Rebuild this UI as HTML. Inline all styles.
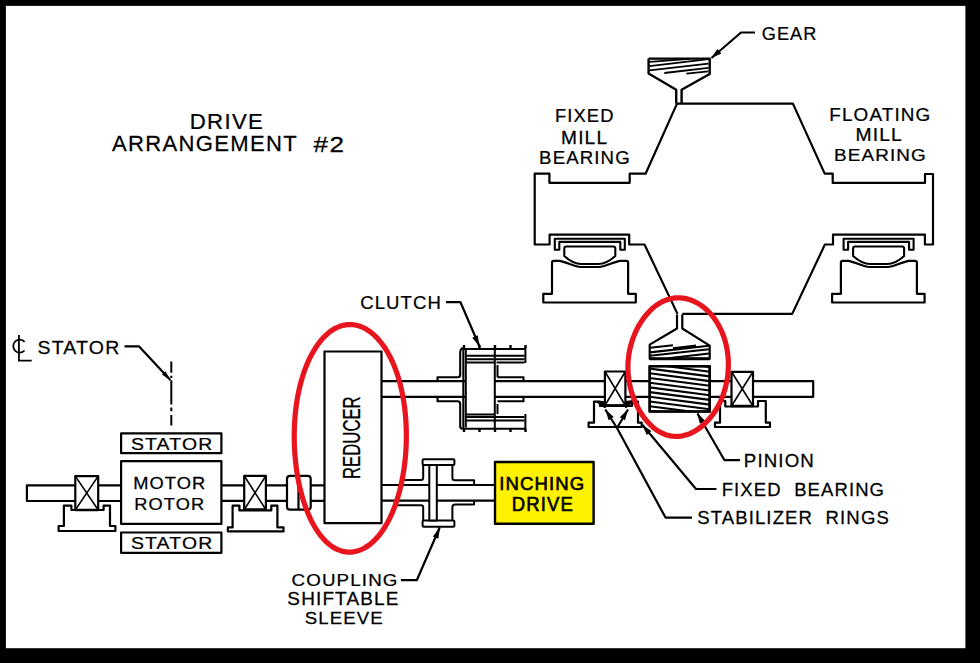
<!DOCTYPE html><html><head><meta charset="utf-8"><style>html,body{margin:0;padding:0;background:#000;width:980px;height:663px;overflow:hidden}svg text{font-family:"Liberation Sans",sans-serif}</style></head><body><svg width="980" height="663" viewBox="0 0 980 663" style="display:block">
<rect x="0" y="0" width="980" height="663" fill="#000"/>
<rect x="5.9" y="5.9" width="959.5" height="642.3" fill="#fff"/>
<g fill="none" stroke="#000" stroke-width="2.2" stroke-linejoin="round" stroke-linecap="butt">
<path d="M648.6,58.6 H709.7 V74 L681.6,89.8 V103.6 M648.6,58.6 V73.5 L676.2,89.8 V103.6" stroke-width="2.4"/>
<path d="M649.5,61.8 L690,58.8 M649.5,66.1 L708.5,59.2 M649.5,70.4 L708.5,63.6 M664.3,73 L708.5,67.9 M686.4,73.6 L708.5,71.4" stroke-width="1.8"/>
<path d="M755,32.5 H741 L711.5,58"/>
<path d="M711.0,58.3 L717.4,48.9 L721.3,53.4 Z" fill="#000" stroke="none"/>
<path d="M676.2,103.6 H792.9 L824.7,173.6 H832.7 V182.9 H925 V174 H933 V244.5 H924.9 V234.7 H833 V244.5 H824.9 L792.2,313.9 H682.3"/>
<path d="M677,103.6 L645.6,173.7 H629.7 V182.8 H549.4 V173.7 H534.7 V244.5 H549.6 V234.7 H629.2 V244.5 H644.5 L677.5,313.9"/>
<path d="M554.8,249.8 V238.7 H624.8 V249.8 H620.3 V241.9 H559.3 V249.8 Z" stroke-width="2.1"/>
<path d="M564.3,248.5 Q564.3,246.5 566.3,246.5 H613.3 Q615.3,246.5 615.3,248.5 V256 C609.8,261 603.8,264 598.3,264 H581.3 C575.8,264 569.8,261 564.3,256 Z" stroke-width="2.1"/>
<path d="M552.0,293.8 V262.5 Q552.0,260.8 553.8,260.8 H559.8 C567.8,262.5 574.8,267 580.8,267 H598.8 C604.8,267 611.8,262.5 619.8,260.8 H626.3 Q628.1,260.8 628.1,262.5 V293.8 H635.8 V302.5 H543.3 V293.8 Z"/>
<path d="M843.6,249.8 V238.7 H913.6 V249.8 H909.1 V241.9 H848.1 V249.8 Z" stroke-width="2.1"/>
<path d="M853.1,248.5 Q853.1,246.5 855.1,246.5 H902.1 Q904.1,246.5 904.1,248.5 V256 C898.6,261 892.6,264 887.1,264 H870.1 C864.6,264 858.6,261 853.1,256 Z" stroke-width="2.1"/>
<path d="M840.9,293.8 V262.5 Q840.9,260.8 842.6,260.8 H848.6 C856.6,262.5 863.6,267 869.6,267 H887.6 C893.6,267 900.6,262.5 908.6,260.8 H915.1 Q916.9,260.8 916.9,262.5 V293.8 H924.6 V302.5 H832.1 V293.8 Z"/>
<path d="M381,381.2 H813.2 V396.8 H381"/>
<path d="M677,314.5 V328.5 L649.7,344.6 V358.8 H709.7 V345.6 L682.3,328.5 V314.5"/>
<path d="M649.7,358.8 H709.7" stroke-width="3"/>
<path d="M650,347.8 L673,345.2 M673,348.3 L696,345.6 M650,352.4 L709,345.8 M650,355.8 L709,349.3 M668,358.3 L709,353.5" stroke-width="2.1"/>
<clipPath id="pc"><rect x="649.7" y="366.2" width="60" height="45.3"/></clipPath>
<rect x="649.7" y="366.2" width="60.00" height="45.30" fill="#fff"/>
<path d="M649.7,359.2 L709.7,367.0 M649.7,363.9 L709.7,371.7 M649.7,368.6 L709.7,376.4 M649.7,373.3 L709.7,381.1 M649.7,378.0 L709.7,385.8 M649.7,382.7 L709.7,390.5 M649.7,387.4 L709.7,395.2 M649.7,392.1 L709.7,399.9 M649.7,396.8 L709.7,404.6 M649.7,401.5 L709.7,409.3 M649.7,406.2 L709.7,414.0 M649.7,410.9 L709.7,418.7 M649.7,415.6 L709.7,423.4" stroke-width="2.1" clip-path="url(#pc)"/>
<rect x="649.7" y="366.2" width="60.00" height="45.30" stroke-width="2.6"/>
<rect x="604.9" y="371.5" width="20.50" height="34.00" fill="#fff"/>
<path d="M604.9,371.5 L625.4,405.5 M625.4,371.5 L604.9,405.5" stroke-width="1.6"/>
<rect x="731.5" y="371.8" width="21.50" height="34.20" fill="#fff"/>
<path d="M731.5,371.8 L753,406 M753,371.8 L731.5,406" stroke-width="1.6"/>
<path d="M594,401.6 H600 V406 H632 V401.6 H638 V422.7 H641.7 V427 H588.6 V422.7 H594 Z" fill="#fff"/>
<path d="M720,401 H725.3 V406.5 H758 V401 H765.8 V422.7 H770 V427 H715 V422.7 H720 Z" fill="#fff"/>
<path d="M604.9,405.5 H625.4 M731.5,406 H753" stroke-width="2.6"/>
<path d="M598,402 L605,402 L605,407 Z M626,402 L633,401 L626,407 Z" fill="#000"/>
<rect x="465.8" y="362.4" width="29.00" height="52.10" fill="#fff" stroke="none"/>
<path d="M437.5,381.2 V377.3 H457.5 Q460.2,377.3 460.2,374.5 V352 Q460.2,349.5 462.5,348" stroke-width="2.1"/>
<path d="M437.5,396.8 V401.3 H457.5 Q460.2,401.3 460.2,404 V426 Q460.2,428.5 462.5,429" stroke-width="2.1"/>
<path d="M463.3,347 V429.5 M465.8,349 V427.5 M494.8,346.5 V429.5" stroke-width="2"/>
<path d="M463.3,349 H525.4 M465.8,355.7 H524.5 M465.8,359.2 H524.5 M465.8,362.4 H494.8 M496.5,362.4 H524.5" stroke-width="2"/>
<path d="M463.3,428.7 H525.4 M465.8,420.5 H524.5 M465.8,417 H524.5 M465.8,414.5 H494.8" stroke-width="2"/>
<path d="M497.5,377.3 H523.5 V381.2 M497.5,401.3 H523.5 V396.8 M497.5,365 V377.3 M497.5,404 V414" stroke-width="2"/>
<path d="M525.4,347 V363 M525.4,414 V430" stroke-width="2"/>
<rect x="462.8" y="345" width="2.40" height="3.00" fill="#000" stroke="none"/>
<rect x="462.8" y="429" width="2.40" height="3.00" fill="#000" stroke="none"/>
<rect x="478.3" y="345" width="2.40" height="3.00" fill="#000" stroke="none"/>
<rect x="478.3" y="429" width="2.40" height="3.00" fill="#000" stroke="none"/>
<rect x="493.8" y="345" width="2.40" height="3.00" fill="#000" stroke="none"/>
<rect x="493.8" y="429" width="2.40" height="3.00" fill="#000" stroke="none"/>
<rect x="509.3" y="345" width="2.40" height="3.00" fill="#000" stroke="none"/>
<rect x="509.3" y="429" width="2.40" height="3.00" fill="#000" stroke="none"/>
<rect x="524.3" y="345" width="2.40" height="3.00" fill="#000" stroke="none"/>
<rect x="524.3" y="429" width="2.40" height="3.00" fill="#000" stroke="none"/>
<path d="M445.9,302.2 H460.5 L479.5,346.5"/>
<path d="M479.5,346.5 L472.2,337.7 L477.7,335.2 Z" fill="#000" stroke="none"/>
<rect x="324.5" y="351.5" width="57.00" height="171.70" fill="#fff"/>
<path d="M121,485.3 H26.9 V501 H121"/>
<path d="M221.4,485.3 H324.5 M221.4,500.8 H324.5"/>
<path d="M381.5,485 H495 M381.5,500.6 H495"/>
<rect x="121.1" y="433.3" width="100.30" height="19.90" fill="#fff"/>
<rect x="121.1" y="461.1" width="100.30" height="62.80" fill="#fff"/>
<rect x="121.1" y="532.5" width="100.30" height="20.30" fill="#fff"/>
<rect x="75.3" y="476.1" width="22.90" height="33.90" fill="#fff"/>
<path d="M75.3,476.1 L98.2,510 M98.2,476.1 L75.3,510" stroke-width="1.6"/>
<rect x="244.2" y="475.8" width="21.70" height="33.90" fill="#fff"/>
<path d="M244.2,475.8 L265.9,509.7 M265.9,475.8 L244.2,509.7" stroke-width="1.6"/>
<path d="M63.9,505.7 H71.4 V510 H103.6 V505.7 H110 V526 H115.4 V531 H58.6 V526 H63.9 Z" fill="#fff"/>
<path d="M232.6,505.7 H239.4 V510.4 H271.3 V505.7 H277.4 V527.4 H283.5 V531.4 H227.9 V527.4 H232.6 Z" fill="#fff"/>
<path d="M75.3,510 H98.2 M244.2,509.7 H265.9" stroke-width="2.6"/>
<rect x="287" y="475.8" width="23.7" height="33.9" rx="3" fill="#fff"/>
<path d="M298.5,475.8 V509.7"/>
<path d="M171.3,361.4 V372.7 M171.3,375.7 V378 M171.3,380.2 V404.4 M171.3,407.4 V411.2 M171.3,415 V425.5" stroke-width="2"/>
<path d="M124.5,346.3 H138.9 L170.3,380"/>
<path d="M170.5,380.2 L161.9,374.6 L165.5,371.2 Z" fill="#000" stroke="none"/>
<path d="M24.6,341.8 A6.5,6.5 0 1 0 24.6,350.5" stroke-width="1.8"/>
<path d="M18.9,335 V360.7 H31.7" stroke-width="1.8"/>
<path d="M401,480 H421 Q423.2,480 423.2,477.8 V464.9 M397,505.2 H421 Q423.2,505.2 423.2,507.4 V520.6" stroke-width="2"/>
<path d="M452.4,464.9 V477.8 Q452.4,480.3 455,480.3 H474.1 V485 M452.4,520.6 V507 Q452.4,504.5 455,504.5 H474.1 V500.6" stroke-width="2"/>
<rect x="422.6" y="459.2" width="31.8" height="5.7" rx="1" fill="#fff" stroke-width="2"/>
<rect x="422.6" y="520.6" width="31.8" height="6.1" rx="1" fill="#fff" stroke-width="2"/>
<rect x="429.3" y="464.9" width="7.50" height="55.70" fill="#fff" stroke-width="2"/>
<path d="M400.9,580.2 H416.8 L439.8,527.3"/>
<path d="M440.0,527.5 L438.3,538.8 L432.8,536.4 Z" fill="#000" stroke="none"/>
<rect x="495" y="462" width="98.60" height="61.70" fill="#fff200" stroke-width="2.4"/>
<path d="M740,460.2 H724.5 L697.5,413.5"/>
<path d="M697.0,412.7 L705.1,420.7 L699.9,423.7 Z" fill="#000" stroke="none"/>
<path d="M716.5,489 H696 L642.5,425"/>
<path d="M642.0,424.5 L651.4,431.0 L646.8,434.9 Z" fill="#000" stroke="none"/>
<path d="M692,517.6 H665.5 L617,428 L605.3,409.5 M617,428 L628,409.5"/>
<path d="M605.3,409.3 L613.7,417.0 L608.6,420.2 Z" fill="#000" stroke="none"/>
<path d="M628.0,409.3 L625.0,420.3 L619.8,417.3 Z" fill="#000" stroke="none"/>
</g>
<path d="M406.33,438.59 C406.31,440.59 406.26,442.59 406.18,444.58 C406.11,446.58 406.00,448.57 405.88,450.55 C405.76,452.53 405.61,454.50 405.43,456.47 C405.26,458.43 405.06,460.38 404.84,462.32 C404.62,464.26 404.37,466.18 404.10,468.09 C403.84,470.00 403.54,471.89 403.23,473.76 C402.92,475.64 402.58,477.49 402.22,479.33 C401.86,481.16 401.48,482.98 401.08,484.77 C400.68,486.56 400.25,488.33 399.81,490.07 C399.37,491.81 398.90,493.53 398.41,495.22 C397.93,496.91 397.42,498.58 396.90,500.21 C396.37,501.85 395.82,503.45 395.26,505.03 C394.69,506.60 394.11,508.15 393.50,509.66 C392.90,511.18 392.28,512.66 391.64,514.11 C391.00,515.55 390.34,516.97 389.66,518.35 C388.99,519.73 388.29,521.07 387.58,522.38 C386.87,523.69 386.14,524.96 385.40,526.19 C384.66,527.42 383.90,528.62 383.12,529.77 C382.35,530.93 381.56,532.05 380.75,533.12 C379.95,534.19 379.12,535.23 378.29,536.22 C377.46,537.21 376.61,538.16 375.75,539.07 C374.89,539.98 374.02,540.84 373.13,541.66 C372.25,542.48 371.35,543.25 370.44,543.98 C369.54,544.70 368.62,545.39 367.69,546.02 C366.77,546.65 365.83,547.24 364.88,547.78 C363.94,548.32 362.99,548.81 362.03,549.25 C361.07,549.69 360.11,550.08 359.14,550.42 C358.17,550.76 357.19,551.05 356.21,551.29 C355.23,551.53 354.25,551.72 353.26,551.85 C352.28,551.99 351.29,552.07 350.31,552.10 C349.32,552.13 348.33,552.11 347.34,552.04 C346.36,551.97 345.37,551.84 344.39,551.66 C343.41,551.48 342.43,551.25 341.45,550.96 C340.48,550.68 339.51,550.34 338.54,549.95 C337.58,549.56 336.62,549.12 335.67,548.62 C334.71,548.13 333.77,547.58 332.84,546.98 C331.90,546.38 330.97,545.73 330.06,545.03 C329.14,544.34 328.24,543.58 327.34,542.78 C326.45,541.99 325.57,541.14 324.70,540.24 C323.83,539.34 322.97,538.40 322.13,537.40 C321.29,536.41 320.46,535.37 319.65,534.29 C318.83,533.21 318.03,532.08 317.25,530.91 C316.47,529.74 315.70,528.52 314.95,527.27 C314.21,526.01 313.47,524.72 312.76,523.38 C312.04,522.05 311.35,520.67 310.67,519.26 C309.99,517.85 309.33,516.40 308.68,514.91 C308.04,513.43 307.42,511.91 306.82,510.36 C306.21,508.81 305.63,507.22 305.07,505.61 C304.50,504.00 303.96,502.35 303.44,500.68 C302.91,499.01 302.41,497.31 301.93,495.58 C301.45,493.86 300.99,492.10 300.55,490.33 C300.11,488.56 299.69,486.76 299.30,484.94 C298.90,483.12 298.53,481.28 298.18,479.42 C297.83,477.56 297.50,475.69 297.19,473.79 C296.89,471.90 296.60,469.99 296.34,468.07 C296.08,466.15 295.85,464.21 295.63,462.26 C295.42,460.32 295.23,458.36 295.06,456.39 C294.90,454.42 294.76,452.45 294.64,450.47 C294.52,448.48 294.43,446.49 294.36,444.50 C294.29,442.51 294.25,440.52 294.23,438.52 C294.21,436.52 294.22,434.53 294.25,432.53 C294.28,430.54 294.33,428.54 294.42,426.55 C294.50,424.56 294.61,422.58 294.74,420.60 C294.87,418.62 295.03,416.65 295.21,414.69 C295.40,412.73 295.61,410.77 295.84,408.84 C296.08,406.90 296.34,404.97 296.62,403.06 C296.91,401.15 297.22,399.25 297.56,397.38 C297.89,395.50 298.26,393.64 298.64,391.81 C299.03,389.97 299.44,388.15 299.88,386.36 C300.31,384.57 300.77,382.80 301.25,381.06 C301.74,379.32 302.25,377.60 302.78,375.92 C303.31,374.24 303.86,372.58 304.43,370.95 C305.01,369.33 305.61,367.74 306.23,366.18 C306.85,364.62 307.49,363.10 308.15,361.61 C308.81,360.12 309.49,358.67 310.19,357.26 C310.89,355.85 311.61,354.48 312.34,353.15 C313.08,351.81 313.84,350.52 314.61,349.27 C315.38,348.03 316.17,346.82 316.97,345.66 C317.78,344.50 318.60,343.38 319.43,342.31 C320.27,341.24 321.12,340.21 321.98,339.23 C322.84,338.25 323.71,337.32 324.60,336.43 C325.48,335.55 326.38,334.71 327.29,333.93 C328.19,333.14 329.11,332.40 330.04,331.71 C330.96,331.02 331.90,330.38 332.84,329.79 C333.78,329.20 334.74,328.66 335.69,328.17 C336.65,327.68 337.61,327.24 338.58,326.85 C339.54,326.46 340.52,326.12 341.49,325.83 C342.47,325.54 343.45,325.31 344.43,325.12 C345.41,324.93 346.39,324.80 347.38,324.71 C348.36,324.62 349.35,324.59 350.34,324.60 C351.32,324.61 352.31,324.68 353.29,324.79 C354.28,324.91 355.26,325.07 356.24,325.28 C357.22,325.50 358.20,325.76 359.17,326.07 C360.15,326.39 361.12,326.75 362.08,327.16 C363.05,327.57 364.01,328.03 364.96,328.53 C365.91,329.04 366.86,329.60 367.80,330.20 C368.74,330.80 369.67,331.45 370.60,332.15 C371.52,332.85 372.43,333.59 373.34,334.38 C374.24,335.17 375.14,336.01 376.02,336.90 C376.90,337.78 377.77,338.71 378.63,339.68 C379.49,340.66 380.34,341.67 381.17,342.74 C382.00,343.80 382.82,344.91 383.62,346.05 C384.42,347.20 385.21,348.40 385.98,349.63 C386.75,350.86 387.51,352.14 388.24,353.45 C388.98,354.77 389.70,356.12 390.40,357.52 C391.10,358.91 391.78,360.34 392.44,361.81 C393.10,363.28 393.75,364.79 394.36,366.33 C394.98,367.87 395.58,369.44 396.16,371.05 C396.74,372.66 397.29,374.30 397.82,375.98 C398.35,377.65 398.86,379.35 399.35,381.08 C399.83,382.81 400.30,384.57 400.73,386.36 C401.17,388.14 401.58,389.95 401.97,391.78 C402.36,393.61 402.72,395.47 403.05,397.35 C403.39,399.22 403.70,401.12 403.99,403.03 C404.27,404.94 404.53,406.87 404.77,408.81 C405.00,410.75 405.21,412.71 405.39,414.68 C405.57,416.64 405.73,418.62 405.86,420.61 C405.99,422.59 406.09,424.59 406.17,426.58 C406.25,428.58 406.30,430.58 406.33,432.58 C406.35,434.58 406.36,436.59 406.33,438.59Z" fill="none" stroke="#e8141e" stroke-width="5.2"/>
<path d="M728.32,367.32 C728.29,368.52 728.23,369.72 728.14,370.91 C728.06,372.10 727.96,373.29 727.83,374.48 C727.70,375.66 727.55,376.84 727.37,378.00 C727.20,379.17 727.00,380.34 726.78,381.49 C726.57,382.64 726.33,383.78 726.07,384.91 C725.81,386.05 725.52,387.17 725.22,388.28 C724.92,389.39 724.60,390.49 724.26,391.57 C723.91,392.66 723.55,393.73 723.17,394.79 C722.79,395.85 722.39,396.90 721.97,397.93 C721.55,398.97 721.12,399.98 720.66,400.99 C720.21,401.99 719.74,402.98 719.25,403.95 C718.76,404.92 718.25,405.87 717.73,406.81 C717.21,407.75 716.67,408.67 716.11,409.58 C715.56,410.48 714.99,411.37 714.40,412.24 C713.82,413.11 713.22,413.96 712.60,414.80 C711.99,415.63 711.36,416.44 710.72,417.24 C710.07,418.03 709.42,418.81 708.75,419.56 C708.08,420.32 707.39,421.05 706.70,421.77 C706.01,422.48 705.30,423.17 704.58,423.84 C703.86,424.51 703.13,425.16 702.39,425.78 C701.65,426.41 700.90,427.01 700.14,427.59 C699.38,428.16 698.61,428.72 697.83,429.25 C697.05,429.77 696.26,430.28 695.47,430.75 C694.67,431.22 693.87,431.67 693.06,432.09 C692.24,432.51 691.43,432.91 690.60,433.27 C689.78,433.64 688.95,433.97 688.11,434.27 C687.28,434.58 686.44,434.85 685.60,435.10 C684.75,435.34 683.91,435.55 683.06,435.73 C682.21,435.91 681.35,436.06 680.50,436.17 C679.64,436.28 678.79,436.36 677.93,436.41 C677.08,436.46 676.22,436.47 675.36,436.45 C674.51,436.42 673.65,436.37 672.80,436.28 C671.95,436.18 671.09,436.06 670.25,435.90 C669.40,435.73 668.55,435.54 667.71,435.30 C666.87,435.07 666.03,434.81 665.20,434.50 C664.37,434.20 663.54,433.86 662.72,433.49 C661.90,433.12 661.09,432.72 660.28,432.28 C659.48,431.84 658.68,431.37 657.89,430.86 C657.10,430.36 656.32,429.82 655.55,429.25 C654.77,428.68 654.01,428.08 653.26,427.45 C652.51,426.82 651.77,426.16 651.04,425.47 C650.31,424.78 649.59,424.06 648.89,423.32 C648.18,422.58 647.49,421.80 646.81,421.01 C646.13,420.21 645.47,419.39 644.82,418.54 C644.17,417.70 643.53,416.83 642.91,415.94 C642.29,415.05 641.68,414.14 641.09,413.21 C640.50,412.28 639.93,411.33 639.37,410.36 C638.82,409.39 638.28,408.41 637.76,407.41 C637.24,406.41 636.73,405.39 636.25,404.36 C635.76,403.33 635.30,402.28 634.85,401.22 C634.41,400.17 633.98,399.10 633.57,398.02 C633.16,396.94 632.78,395.84 632.41,394.74 C632.05,393.64 631.70,392.53 631.38,391.42 C631.06,390.30 630.75,389.17 630.47,388.04 C630.19,386.91 629.94,385.77 629.70,384.63 C629.47,383.49 629.25,382.34 629.06,381.19 C628.88,380.04 628.71,378.88 628.57,377.72 C628.42,376.56 628.31,375.40 628.21,374.24 C628.11,373.07 628.04,371.91 628.00,370.74 C627.95,369.58 627.92,368.41 627.93,367.24 C627.93,366.08 627.95,364.91 628.00,363.74 C628.05,362.58 628.12,361.41 628.22,360.25 C628.31,359.09 628.44,357.93 628.58,356.78 C628.73,355.62 628.89,354.47 629.09,353.32 C629.28,352.17 629.49,351.03 629.73,349.89 C629.97,348.75 630.23,347.62 630.52,346.50 C630.80,345.37 631.11,344.26 631.44,343.15 C631.77,342.04 632.12,340.94 632.49,339.85 C632.86,338.76 633.25,337.68 633.67,336.61 C634.08,335.54 634.51,334.48 634.97,333.44 C635.42,332.40 635.89,331.36 636.39,330.35 C636.88,329.33 637.39,328.33 637.92,327.34 C638.44,326.36 638.99,325.39 639.55,324.43 C640.11,323.48 640.69,322.55 641.29,321.63 C641.88,320.72 642.49,319.82 643.12,318.95 C643.74,318.08 644.38,317.22 645.03,316.39 C645.69,315.56 646.36,314.76 647.03,313.97 C647.71,313.19 648.41,312.43 649.11,311.69 C649.81,310.96 650.53,310.25 651.26,309.57 C651.98,308.89 652.72,308.23 653.46,307.60 C654.21,306.98 654.97,306.38 655.73,305.80 C656.50,305.23 657.27,304.69 658.05,304.18 C658.84,303.66 659.63,303.18 660.42,302.73 C661.22,302.28 662.03,301.85 662.84,301.46 C663.65,301.07 664.46,300.71 665.29,300.38 C666.11,300.05 666.94,299.75 667.77,299.49 C668.60,299.22 669.44,298.99 670.28,298.78 C671.13,298.58 671.97,298.41 672.82,298.27 C673.67,298.13 674.52,298.03 675.38,297.95 C676.23,297.88 677.09,297.84 677.94,297.83 C678.80,297.82 679.66,297.84 680.52,297.89 C681.38,297.95 682.24,298.03 683.10,298.15 C683.96,298.27 684.82,298.41 685.68,298.59 C686.54,298.78 687.40,298.99 688.25,299.23 C689.11,299.47 689.96,299.75 690.81,300.05 C691.65,300.35 692.50,300.69 693.34,301.06 C694.18,301.42 695.01,301.82 695.84,302.24 C696.67,302.67 697.49,303.12 698.31,303.61 C699.12,304.09 699.93,304.61 700.73,305.15 C701.53,305.69 702.32,306.26 703.10,306.86 C703.88,307.46 704.65,308.09 705.41,308.74 C706.17,309.40 706.92,310.08 707.65,310.79 C708.38,311.50 709.11,312.23 709.81,312.99 C710.52,313.75 711.21,314.54 711.89,315.35 C712.56,316.17 713.23,317.00 713.87,317.86 C714.51,318.72 715.14,319.61 715.75,320.51 C716.36,321.42 716.95,322.35 717.52,323.30 C718.09,324.25 718.64,325.22 719.17,326.21 C719.70,327.20 720.22,328.21 720.70,329.24 C721.19,330.26 721.66,331.31 722.11,332.37 C722.55,333.44 722.98,334.52 723.38,335.61 C723.78,336.71 724.15,337.82 724.51,338.94 C724.86,340.06 725.19,341.19 725.50,342.34 C725.80,343.48 726.08,344.64 726.34,345.81 C726.60,346.97 726.83,348.15 727.04,349.33 C727.25,350.51 727.43,351.70 727.59,352.89 C727.75,354.08 727.88,355.28 727.99,356.48 C728.10,357.68 728.19,358.89 728.25,360.09 C728.31,361.30 728.34,362.50 728.36,363.71 C728.37,364.91 728.36,366.12 728.32,367.32Z" fill="none" stroke="#e8141e" stroke-width="5.2"/>
<g font-family="Liberation Sans" fill="#000">
<text transform="matrix(0.2218 0 0 0.2116 189.73 129.20)" font-size="100" font-weight="normal" letter-spacing="6" xml:space="preserve" stroke="#000" stroke-width="1.18">DRIVE</text>
<text transform="matrix(0.2206 0 0 0.2239 111.90 151.48)" font-size="100" font-weight="normal" letter-spacing="6" xml:space="preserve" stroke="#000" stroke-width="1.12">ARRANGEMENT</text>
<text transform="matrix(0.2607 0 0 0.2214 313.50 152.00)" font-size="100" font-weight="normal" letter-spacing="6" xml:space="preserve" stroke="#000" stroke-width="1.13">#2</text>
<text transform="matrix(0.1818 0 0 0.1901 761.69 40.11)" font-size="100" font-weight="normal" letter-spacing="6" xml:space="preserve" stroke="#000" stroke-width="1.31">GEAR</text>
<text transform="matrix(0.1837 0 0 0.1768 554.93 122.20)" font-size="100" font-weight="normal" letter-spacing="6" xml:space="preserve" stroke="#000" stroke-width="1.41">FIXED</text>
<text transform="matrix(0.1913 0 0 0.1899 561.07 143.60)" font-size="100" font-weight="normal" letter-spacing="6" xml:space="preserve" stroke="#000" stroke-width="1.32">MILL</text>
<text transform="matrix(0.1864 0 0 0.1887 539.11 163.61)" font-size="100" font-weight="normal" letter-spacing="6" xml:space="preserve" stroke="#000" stroke-width="1.32">BEARING</text>
<text transform="matrix(0.1890 0 0 0.1845 829.29 121.12)" font-size="100" font-weight="normal" letter-spacing="6" xml:space="preserve" stroke="#000" stroke-width="1.35">FLOATING</text>
<text transform="matrix(0.1930 0 0 0.1768 855.46 141.00)" font-size="100" font-weight="normal" letter-spacing="6" xml:space="preserve" stroke="#000" stroke-width="1.41">MILL</text>
<text transform="matrix(0.1890 0 0 0.1718 833.99 161.03)" font-size="100" font-weight="normal" letter-spacing="6" xml:space="preserve" stroke="#000" stroke-width="1.45">BEARING</text>
<text transform="matrix(0.1851 0 0 0.1859 360.17 308.91)" font-size="100" font-weight="normal" letter-spacing="6" xml:space="preserve" stroke="#000" stroke-width="1.34">CLUTCH</text>
<text transform="matrix(0.1954 0 0 0.1915 37.52 353.81)" font-size="100" font-weight="normal" letter-spacing="6" xml:space="preserve" stroke="#000" stroke-width="1.31">STATOR</text>
<text transform="matrix(0.1941 0 0 0.1662 130.93 449.83)" font-size="100" font-weight="normal" letter-spacing="6" xml:space="preserve" stroke="#000" stroke-width="1.50">STATOR</text>
<text transform="matrix(0.1829 0 0 0.1648 133.14 489.44)" font-size="100" font-weight="normal" letter-spacing="6" xml:space="preserve" stroke="#000" stroke-width="1.52">MOTOR</text>
<text transform="matrix(0.1824 0 0 0.1662 134.24 509.83)" font-size="100" font-weight="normal" letter-spacing="6" xml:space="preserve" stroke="#000" stroke-width="1.50">ROTOR</text>
<text transform="matrix(0.1941 0 0 0.1718 130.93 549.43)" font-size="100" font-weight="normal" letter-spacing="6" xml:space="preserve" stroke="#000" stroke-width="1.45">STATOR</text>
<text transform="matrix(0.1855 0 0 0.1831 499.33 490.02)" font-size="100" font-weight="normal" letter-spacing="6" xml:space="preserve" stroke="#000" stroke-width="3.28">INCHING</text>
<text transform="matrix(0.1852 0 0 0.1942 511.82 511.00)" font-size="100" font-weight="normal" letter-spacing="6" xml:space="preserve" stroke="#000" stroke-width="3.09">DRIVE</text>
<text transform="matrix(0.1877 0 0 0.1676 291.56 585.93)" font-size="100" font-weight="normal" letter-spacing="6" xml:space="preserve" stroke="#000" stroke-width="1.49">COUPLING</text>
<text transform="matrix(0.1898 0 0 0.1803 287.35 605.22)" font-size="100" font-weight="normal" letter-spacing="6" xml:space="preserve" stroke="#000" stroke-width="1.39">SHIFTABLE</text>
<text transform="matrix(0.1861 0 0 0.1690 304.77 623.63)" font-size="100" font-weight="normal" letter-spacing="6" xml:space="preserve" stroke="#000" stroke-width="1.48">SLEEVE</text>
<text transform="matrix(0.1869 0 0 0.1775 743.81 467.42)" font-size="100" font-weight="normal" letter-spacing="6" xml:space="preserve" stroke="#000" stroke-width="1.41">PINION</text>
<text transform="matrix(0.1848 0 0 0.1803 721.72 496.12)" font-size="100" font-weight="normal" letter-spacing="6" xml:space="preserve" stroke="#000" stroke-width="1.39">FIXED  BEARING</text>
<text transform="matrix(0.1856 0 0 0.1803 697.17 524.12)" font-size="100" font-weight="normal" letter-spacing="6" xml:space="preserve" stroke="#000" stroke-width="1.39">STABILIZER  RINGS</text>
<text transform="matrix(0 -0.1672 0.2423 0 359.56 478.94)" font-size="100" stroke="#000" stroke-width="1.24" xml:space="preserve">REDUCER</text>
</g>
</svg></body></html>
